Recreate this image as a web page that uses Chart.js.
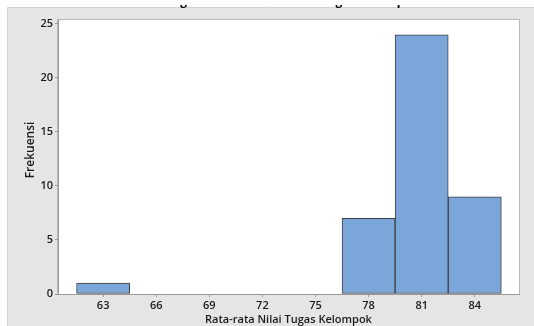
<!DOCTYPE html>
<html lang="id">
<head>
<meta charset="UTF-8">
<title>Histogram Rata-rata Nilai Tugas Kelompok</title>
<style>
  html, body { margin: 0; padding: 0; background: #fff; }
  #wrap { position: relative; width: 534px; height: 326px; }
</style>
<script src="https://cdn.jsdelivr.net/npm/chart.js@4.4.1/dist/chart.umd.min.js"></script>
</head>
<body>
<div id="wrap"><canvas id="hist"></canvas></div>
<script>
// data histogram (titik tengah kelas, lebar kelas 3)
const judul = 'Histogram of Rata-rata Nilai Tugas Kelompok';
const judulX = 'Rata-rata Nilai Tugas Kelompok';
const judulY = 'Frekuensi';
const titikTengah = [63, 66, 69, 72, 75, 78, 81, 84];
const frekuensi = [1, 0, 0, 0, 0, 7, 24, 9];
const tickX = [63, 66, 69, 72, 75, 78, 81, 84];
const tickY = [0, 5, 10, 15, 20, 25];

const fontUtama = '"Open Sans", "Noto Sans", sans-serif';

// latar abu-abu ala Minitab + bingkai area plot
const latar = {
  id: 'latar',
  beforeDraw(chart) {
    const { ctx, chartArea: a, width, height } = chart;
    ctx.save();
    ctx.fillStyle = '#ffffff';
    ctx.fillRect(0, 0, width, height);
    ctx.fillStyle = '#e5e5e5';
    ctx.fillRect(8, 8, width - 8, height - 8);
    ctx.strokeStyle = '#d2d2d2';
    ctx.lineWidth = 1;
    ctx.beginPath();
    ctx.moveTo(7.5, height); ctx.lineTo(7.5, 7.5); ctx.lineTo(width, 7.5);
    ctx.stroke();
    ctx.fillStyle = '#ffffff';
    ctx.fillRect(a.left, a.top, a.right - a.left, a.bottom - a.top);
    ctx.strokeStyle = '#b9b9b9';
    ctx.strokeRect(a.left - 0.5, a.top - 0.5, a.right - a.left + 1, a.bottom - a.top + 1);

    // judul grafik: di gambar asli hanya ekor hurufnya yang kelihatan
    ctx.save();
    ctx.beginPath();
    ctx.rect(0, 5, width, 4);
    ctx.clip();
    ctx.fillStyle = '#000';
    ctx.font = 'bold 12px ' + fontUtama;
    ctx.textAlign = 'center';
    ctx.textBaseline = 'alphabetic';
    ctx.fillText(judul, 284, 5);
    ctx.restore();

    // judul sumbu Y
    ctx.translate(31, 150);
    ctx.rotate(-Math.PI / 2);
    ctx.fillStyle = '#1a1a1a';
    ctx.font = '600 12px ' + fontUtama;
    ctx.textAlign = 'center';
    ctx.textBaseline = 'middle';
    ctx.fillText(judulY, 0, 0);
    ctx.restore();
  }
};

const ctx = document.getElementById('hist').getContext('2d');
new Chart(ctx, {
  type: 'bar',
  data: {
    datasets: [{
      label: judulY,
      data: titikTengah.map((x, i) => ({ x: x, y: frekuensi[i] })),
      backgroundColor: '#7ba6d9',
      borderColor: '#3f3f3f',
      borderWidth: 1,
      borderSkipped: false,
      barPercentage: 1,
      categoryPercentage: 1
    }]
  },
  options: {
    responsive: true,
    maintainAspectRatio: false,
    animation: false,
    layout: { padding: { left: 0, right: 15, top: 20, bottom: 0 } },
    plugins: {
      legend: { display: false },
      tooltip: { enabled: false }
    },
    scales: {
      x: {
        type: 'linear',
        min: 60.45,
        max: 86.5,
        offset: false,
        afterBuildTicks: ax => { ax.ticks = tickX.map(v => ({ value: v })); },
        afterFit: ax => { ax.height = 32; },
        grid: { offset: false, drawOnChartArea: false, drawTicks: true, tickLength: 3, color: '#999' },
        border: { display: true, color: '#999' },
        ticks: { padding: 2, maxRotation: 0, color: '#1a1a1a', font: { family: fontUtama, size: 11, weight: '600' } },
        title: { display: true, text: judulX, color: '#1a1a1a', padding: { top: 0, bottom: 0 }, font: { family: fontUtama, size: 11, weight: '600' } }
      },
      y: {
        min: 0,
        max: 25.37,
        afterBuildTicks: ax => { ax.ticks = tickY.map(v => ({ value: v })); },
        afterFit: ax => { ax.width = 58; },
        grid: { drawOnChartArea: false, drawTicks: true, tickLength: 3, color: '#999' },
        border: { display: true, color: '#999' },
        ticks: { padding: 2, color: '#1a1a1a', font: { family: fontUtama, size: 11, weight: '600' } },
        title: { display: false }
      }
    }
  },
  plugins: [latar]
});
</script>
</body>
</html>
